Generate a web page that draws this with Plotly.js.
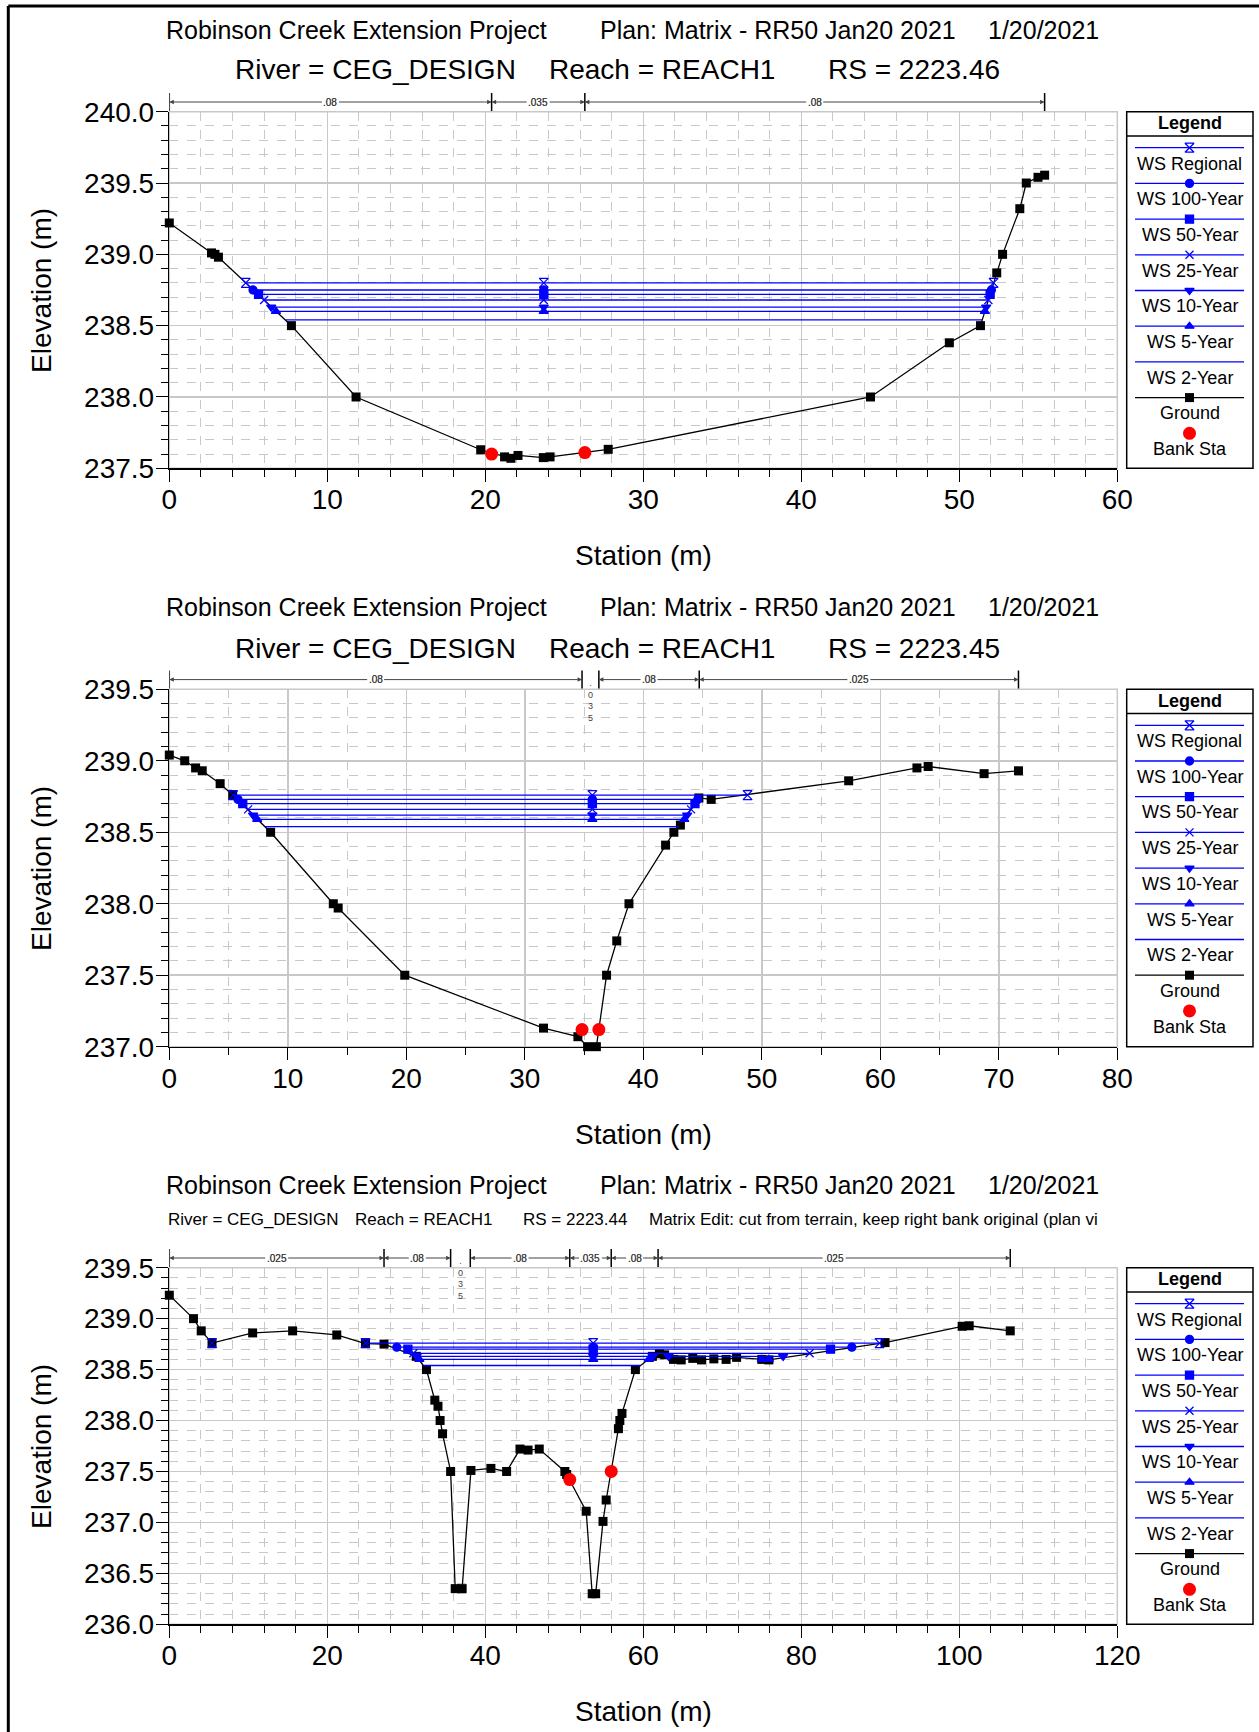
<!DOCTYPE html>
<html><head><meta charset="utf-8">
<script src="https://cdn.plot.ly/plotly-3.0.1.min.js"></script>
<style>html,body{margin:0;padding:0;background:#fff}#chart{width:1259px;height:1732px}</style>
</head><body><div id="chart"></div>
<script>
// ================= DATA =================
const seriesNames = ['WS Regional','WS 100-Year','WS 50-Year','WS 25-Year','WS 10-Year','WS 5-Year','WS 2-Year'];
const legendExtra = ['Ground','Bank Sta'];
const titleLine1 = ['Robinson Creek Extension Project','Plan: Matrix - RR50 Jan20 2021','1/20/2021'];
const xTitle = 'Station (m)';
const yTitle = 'Elevation (m)';

// ---- Panel 1 : RS 2223.46 ----
const p1Title2 = ['River = CEG_DESIGN','Reach = REACH1','RS = 2223.46'];
const p1GroundSta  = [0, 2.67, 2.89, 3.11, 7.73, 11.82, 19.71, 21.22, 21.62, 22.07, 23.67, 24.1, 27.78, 44.38, 49.37, 51.34, 52.37, 52.74, 53.83, 54.24, 54.98, 55.40];
const p1GroundElev = [239.22, 239.01, 239.0, 238.98, 238.5, 238.0, 237.63, 237.58, 237.57, 237.59, 237.575, 237.58, 237.633, 238.0, 238.38, 238.5, 238.87, 239.0, 239.32, 239.5, 239.54, 239.555];
const p1BankSta  = [20.4, 26.3];
const p1BankElev = [237.60, 237.61];
const p1WsElev = [238.80, 238.75, 238.72, 238.68, 238.63, 238.60, 238.54];
const p1WsSta = [
  [4.84, 23.7, 52.17],
  [5.3, 23.7, 52.03],
  [5.65, 23.7, 51.95],
  [6.0, 23.7, 51.84],
  [6.45, 23.7, 51.7],
  [6.75, 23.7, 51.62],
  [7.35, 51.45]
];
const p1NSta = [0, 20.4, 26.3, 55.4];
const p1NVal = ['.08', '.035', '.08'];

// ---- Panel 2 : RS 2223.45 ----
const p2Title2 = ['River = CEG_DESIGN','Reach = REACH1','RS = 2223.45'];
const p2GroundSta  = [0, 1.3, 2.22, 2.78, 4.29, 5.35, 8.55, 13.84, 14.25, 19.87, 31.58, 34.48, 35.3, 36.04, 36.9, 37.76, 38.79, 41.88, 42.58, 43.13, 44.69, 45.73, 57.33, 63.09, 64.04, 68.76, 71.66];
const p2GroundElev = [239.04, 239.0, 238.95, 238.93, 238.84, 238.76, 238.5, 238.0, 237.97, 237.5, 237.13, 237.07, 237.0, 237.0, 237.5, 237.74, 238.0, 238.41, 238.5, 238.55, 238.74, 238.73, 238.86, 238.95, 238.96, 238.91, 238.93];
const p2BankSta  = [34.83, 36.25];
const p2BankElev = [237.12, 237.12];
const p2WsElev = [238.76, 238.73, 238.70, 238.66, 238.62, 238.59, 238.54];
const p2WsSta = [
  [5.39, 35.7, 48.8],
  [5.8, 35.7, 44.6],
  [6.2, 35.7, 44.36],
  [6.65, 35.7, 44.03],
  [7.07, 35.7, 43.7],
  [7.42, 35.7, 43.46],
  [8.08, 43.02]
];
const p2NSta = [0, 34.83, 36.25, 44.72, 71.66];
const p2NVal = ['.08', '.035', '.08', '.025'];

// ---- Panel 3 : RS 2223.44 ----
const p3Title2 = ['River = CEG_DESIGN','Reach = REACH1','RS = 2223.44','Matrix Edit: cut from terrain, keep right bank original (plan vi'];
const p3GroundSta  = [0, 3.06, 4.04, 5.41, 10.55, 15.61, 21.2, 24.83, 27.18, 31.26, 32.55, 33.61, 34.01, 34.28, 34.59, 35.61, 36.19, 37.07, 38.18, 40.71, 42.7, 44.39, 45.41, 46.83, 50.07, 50.3, 52.77, 53.53, 53.97, 54.9, 55.3, 56.85, 57.03, 57.3, 59.0, 61.15, 62.04, 62.7, 63.82, 64.8, 66.26, 67.37, 68.93, 70.48, 71.81, 75.0, 75.9, 90.6, 100.36, 101.25, 106.45];
const p3GroundElev = [239.23, 239.0, 238.88, 238.76, 238.86, 238.88, 238.84, 238.755, 238.75, 238.63, 238.5, 238.2, 238.14, 238.0, 237.87, 237.5, 236.35, 236.35, 237.51, 237.53, 237.5, 237.72, 237.71, 237.72, 237.5, 237.47, 237.11, 236.3, 236.3, 237.01, 237.22, 237.92, 238.0, 238.07, 238.5, 238.63, 238.655, 238.645, 238.6, 238.595, 238.61, 238.595, 238.605, 238.6, 238.62, 238.6, 238.595, 238.765, 238.925, 238.93, 238.88];
const p3BankSta  = [50.69, 55.94];
const p3BankElev = [237.42, 237.5];
const p3WsElev = [238.76, 238.72, 238.70, 238.66, 238.63, 238.60, 238.54];
const p3WsSta = [
  [5.41, null, 24.83, 53.66, 89.9],
  [28.8, 53.66, 86.4],
  [30.2, 53.66, 83.7],
  [30.9, 53.66, 81.05],
  [31.3, 53.66, 61.2, null, 63.2, 77.7],
  [31.65, 53.66, 60.7, null, 75.0, 75.9],
  [32.15, 59.69]
];
const p3NSta = [0, 27.18, 35.61, 38.1, 50.69, 55.94, 61.87, 106.45];
const p3NVal = ['.025', '.08', '.035', '.08', '.035', '.08', '.025'];

// ================= STYLE / LAYOUT =================
const W = 1259, H = 1732;
const px = v => v / W;
const py = v => 1 - v / H;
const FONT = '"Liberation Sans", Arial, Helvetica, sans-serif';
const BLUE = '#0000ff';
const GRID = '#c8c8c8';
const plotLeft = 169.3, plotRight = 1117.3;

const wsStyle = [
  {symbol:'hourglass-open', size:9},
  {symbol:'circle', size:8},
  {symbol:'square', size:8},
  {symbol:'x-thin-open', size:8},
  {symbol:'triangle-down', size:8},
  {symbol:'triangle-up', size:8},
  {symbol:null, size:0}
];

const panels = [
  {gSta:p1GroundSta, gEl:p1GroundElev, bSta:p1BankSta, bEl:p1BankElev, wsSta:p1WsSta, wsEl:p1WsElev, nSta:p1NSta, nVal:p1NVal,
   xmax:60, xmaj:10, xmin:2, yr:[237.5,240.0], title2:p1Title2, t2size:28, t2x:[233,546.7,826],
   top:111.7, bottom:468.3, t1:29.8, t2:69.6, xt:555.5},
  {gSta:p2GroundSta, gEl:p2GroundElev, bSta:p2BankSta, bEl:p2BankElev, wsSta:p2WsSta, wsEl:p2WsElev, nSta:p2NSta, nVal:p2NVal,
   xmax:80, xmaj:10, xmin:5, yr:[237.0,239.5], title2:p2Title2, t2size:28, t2x:[233,546.7,826],
   top:689.3, bottom:1046.7, t1:607.4, t2:648.3, xt:1134},
  {gSta:p3GroundSta, gEl:p3GroundElev, bSta:p3BankSta, bEl:p3BankElev, wsSta:p3WsSta, wsEl:p3WsElev, nSta:p3NSta, nVal:p3NVal,
   xmax:120, xmaj:20, xmin:4, yr:[236.0,239.5], title2:p3Title2, t2size:17, t2x:[165.7,353.4,521.3,647.2],
   top:1267.7, bottom:1624.3, t1:1185.0, t2:1219.3, xt:1711.8}
];
const line1X = [163.5, 597.5, 986];

const traces = [], annotations = [], shapes = [];
const layout = {
  width:W, height:H, margin:{l:0,r:0,t:0,b:0},
  paper_bgcolor:'#fff', plot_bgcolor:'rgba(0,0,0,0)',
  showlegend:false, font:{family:FONT, color:'#000'},
  xaxis4:{domain:[0,1], range:[0,W], visible:false, fixedrange:true, anchor:'y4'},
  yaxis4:{domain:[0,1], range:[H,0], visible:false, fixedrange:true, anchor:'x4'}
};

// outer frame (top & left)
shapes.push({type:'line', xref:'paper', yref:'paper', x0:px(8.3), x1:1, y0:py(6), y1:py(6), line:{color:'#000', width:3}});
shapes.push({type:'line', xref:'paper', yref:'paper', x0:px(8.3), x1:px(8.3), y0:py(6), y1:0, line:{color:'#000', width:3}});

panels.forEach((p, i) => {
  const k = i + 1, sfx = k === 1 ? '' : String(k);
  const xa = 'x' + sfx, ya = 'y' + sfx;
  layout['xaxis' + sfx] = {
    domain:[px(plotLeft), px(plotRight)], anchor:ya, range:[0, p.xmax], dtick:p.xmaj, tick0:0,
    ticks:'outside', ticklen:12, tickwidth:1, tickcolor:'#000', ticklabelstandoff:-6,
    showline:true, linecolor:'#000', linewidth:1.5, zeroline:false,
    showgrid:true, gridcolor:GRID, gridwidth:1.5, tickfont:{size:28, family:FONT},
    minor:{dtick:p.xmin, tick0:0, ticks:'outside', ticklen:7, tickcolor:'#000', showgrid:true, gridcolor:GRID, griddash:'dash', gridwidth:1},
    fixedrange:true
  };
  layout['yaxis' + sfx] = {
    domain:[py(p.bottom), py(p.top)], anchor:xa, range:p.yr, dtick:0.5, tick0:0, tickformat:'.1f',
    ticks:'outside', ticklen:12, tickwidth:1, tickcolor:'#000', ticklabelstandoff:-4,
    showline:true, linecolor:'#000', linewidth:1.5, zeroline:false,
    showgrid:true, gridcolor:GRID, gridwidth:1.5, tickfont:{size:28, family:FONT},
    minor:{dtick:0.1, tick0:0, ticks:'outside', ticklen:7, tickcolor:'#000', showgrid:true, gridcolor:GRID, griddash:'dash', gridwidth:1},
    fixedrange:true
  };
  // gray frame
  shapes.push({type:'rect', xref:xa + ' domain', yref:ya + ' domain', x0:0, x1:1, y0:0, y1:1, line:{color:GRID, width:1.5}, layer:'below'});

  // ground
  traces.push({type:'scatter', x:p.gSta, y:p.gEl, xaxis:xa, yaxis:ya, mode:'lines+markers', cliponaxis:false,
    line:{color:'#000', width:1.3}, marker:{symbol:'square', size:9, color:'#000'}});
  // water surfaces
  p.wsSta.forEach((sta, j) => {
    const st = wsStyle[j];
    const tr = {type:'scatter', x:sta, y:sta.map(s => s === null ? null : p.wsEl[j]), xaxis:xa, yaxis:ya,
      mode: st.symbol ? 'lines+markers' : 'lines', connectgaps:false, cliponaxis:false,
      line:{color:BLUE, width:1.3}};
    if (st.symbol) tr.marker = {symbol:st.symbol, size:st.size, color:BLUE, line:{color:BLUE, width:1.3}};
    traces.push(tr);
  });
  // bank stations
  traces.push({type:'scatter', x:p.bSta, y:p.bEl, xaxis:xa, yaxis:ya, mode:'markers', cliponaxis:false,
    marker:{symbol:'circle', size:13, color:'#ff0000'}});

  // titles
  titleLine1.forEach((t, j) => annotations.push({text:t, xref:'paper', yref:'paper', x:px(line1X[j]), y:py(p.t1),
    xanchor:'left', yanchor:'middle', showarrow:false, font:{size:25, family:FONT, color:'#000'}}));
  p.title2.forEach((t, j) => annotations.push({text:t, xref:'paper', yref:'paper', x:px(p.t2x[j]), y:py(p.t2),
    xanchor:'left', yanchor:'middle', showarrow:false, font:{size:p.t2size, family:FONT, color:'#000'}}));
  // axis titles
  annotations.push({text:xTitle, xref:'paper', yref:'paper', x:px((plotLeft + plotRight) / 2), y:py(p.xt),
    xanchor:'center', yanchor:'middle', showarrow:false, font:{size:28, family:FONT, color:'#000'}});
  annotations.push({text:yTitle, xref:'paper', yref:'paper', x:px(40.9), y:py((p.top + p.bottom) / 2), textangle:-90,
    xanchor:'center', yanchor:'middle', showarrow:false, font:{size:28, family:FONT, color:'#000'}});

  // Manning's n bar
  const barY = p.top - 9.7;
  const NC = '#444';
  p.nSta.forEach(s => shapes.push({type:'line', xref:xa, yref:'paper', x0:s, x1:s, y0:py(barY - 9), y1:py(barY + 9),
    line:{color:'#000', width:1.5}}));
  p.nVal.forEach((v, j) => {
    const a = p.nSta[j], b = p.nSta[j + 1], mid = (a + b) / 2;
    if ((b - a) / p.xmax < 0.03) {
      annotations.push({text:v.split('').join('<br>'), xref:xa, yref:'paper', x:mid, y:py(barY - 4),
        xanchor:'center', yanchor:'top', showarrow:false, font:{size:9, family:FONT, color:NC}});
    } else {
      [a, b].forEach(end => annotations.push({text:v, xref:xa, yref:'paper', x:end, y:py(barY),
        axref:xa, ax:mid, ayref:'pixel', ay:0, showarrow:true, arrowhead:2, arrowsize:0.9, arrowwidth:1,
        arrowcolor:NC, standoff:0, font:{size:10, family:FONT, color:NC}}));
    }
  });

  // Legend box
  const lgL = 1126.7, lgR = 1253, lnL = 1135, lnR = 1244, lnM = 1189.5;
  shapes.push({type:'rect', xref:'paper', yref:'paper', x0:px(lgL), x1:px(lgR), y0:py(p.bottom), y1:py(p.top),
    line:{color:'#000', width:1.5}, fillcolor:'rgba(0,0,0,0)'});
  shapes.push({type:'line', xref:'paper', yref:'paper', x0:px(lgL), x1:px(lgR), y0:py(p.top + 24.3), y1:py(p.top + 24.3),
    line:{color:'#000', width:1.5}});
  annotations.push({text:'<b>Legend</b>', xref:'paper', yref:'paper', x:px((lgL + lgR) / 2), y:py(p.top + 11.5),
    xanchor:'center', yanchor:'middle', showarrow:false, font:{size:18, family:FONT, color:'#000'}});
  const names = seriesNames.concat(legendExtra);
  names.forEach((nm, j) => {
    const ly = p.top + 36 + 35.7 * j;
    if (j < 8) {
      traces.push({type:'scatter', x:[lnL, lnR], y:[ly, ly], xaxis:'x4', yaxis:'y4', mode:'lines',
        line:{color: j < 7 ? BLUE : '#000', width:1.3}});
    }
    let mk = null;
    if (j < 7 && wsStyle[j].symbol) mk = {symbol:wsStyle[j].symbol, size:wsStyle[j].size, color:BLUE, line:{color:BLUE, width:1.3}};
    if (j === 7) mk = {symbol:'square', size:9, color:'#000'};
    if (j === 8) mk = {symbol:'circle', size:13, color:'#ff0000'};
    if (mk) traces.push({type:'scatter', x:[lnM], y:[ly], xaxis:'x4', yaxis:'y4', mode:'markers', marker:mk});
    annotations.push({text:nm, xref:'paper', yref:'paper', x:px(lnM), y:py(ly + 15.8),
      xanchor:'center', yanchor:'middle', showarrow:false, font:{size:18, family:FONT, color:'#000'}});
  });
});

layout.shapes = shapes;
layout.annotations = annotations;
Plotly.newPlot('chart', traces, layout, {staticPlot:true, displayModeBar:false});
</script>
</body></html>
